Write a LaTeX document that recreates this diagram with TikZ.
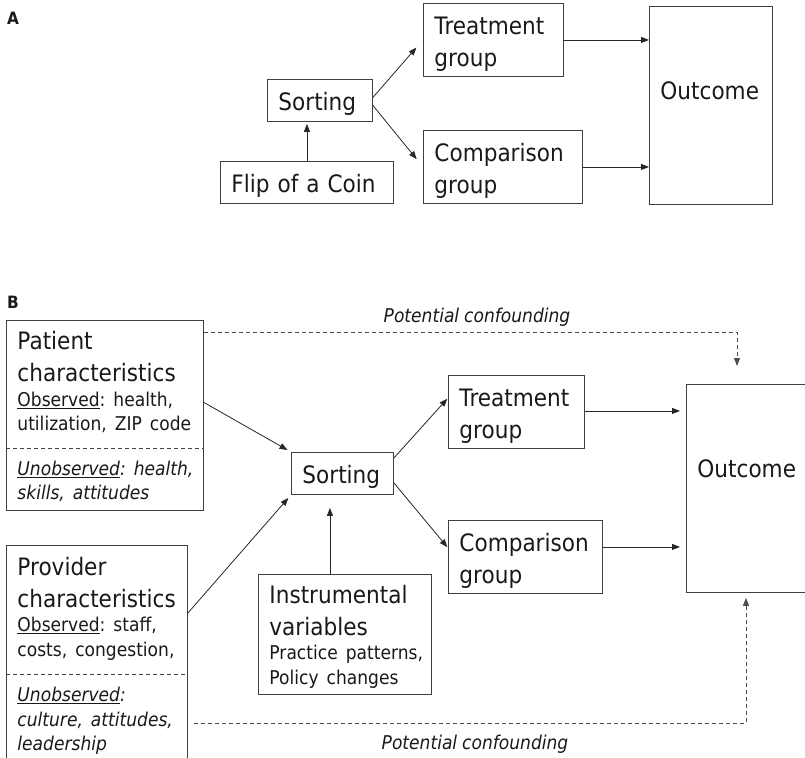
\documentclass[tikz,border=0pt]{standalone}
\usepackage{fontspec}
\setmainfont[FakeStretch=0.9, WordSpace=0.9]{DejaVu Sans}
\usepackage{xcolor}
\usetikzlibrary{arrows.meta, positioning, calc}
\setlength{\parindent}{0pt}
\AtBeginDocument{\frenchspacing}
\newcommand{\bigtxt}{\fontsize{24}{32}\selectfont}
\newcommand{\smtxt}{\fontsize{19}{24.5}\selectfont}
\tikzset{
  %% Box, text set from its top-left corner
  tbox/.style 2 args={
    rectangle, draw=black!75, line width=0.9pt,
    anchor=north west, align=left,
    inner xsep=11pt, inner ysep=0pt,
    text width=#1pt-22pt, text height=31pt, text depth=#2pt-31pt,
    font=\bigtxt, text=black!90
  },
  %% Arrow
  arr/.style={-{Triangle[length=8pt,width=6pt]},
              draw=black!85, line width=0.8pt},
  %% Dashed arrow
  darr/.style={-{Triangle[length=8pt,width=6pt]},
               draw=black!70, line width=0.8pt,
               dash pattern=on 4pt off 3pt},
  %% Divider inside a box
  divl/.style={draw=black!75, line width=0.8pt,
               dash pattern=on 4pt off 3pt},
  %% Panel letter
  panel/.style={anchor=base west, inner sep=0pt,
                font=\fontsize{17}{19}\selectfont\bfseries, text=black!90},
  %% Italic label
  conf/.style={anchor=base, inner sep=0pt,
               font=\smtxt\itshape, text=black!90},
}

\begin{document}
\begin{tikzpicture}[x=1pt, y=-1pt]
  \useasboundingbox (0,0) rectangle (805,757);

  %% ---- Panel A ----
  \node[panel] (labA) at (7,25) {A};
  \node[tbox={140}{73}] (treatA) at (423,3) {Treatment\par group};
  \node[tbox={105}{42}] (sortA) at (267,79) {Sorting};
  \node[tbox={173}{42}] (coinA) at (220,161) {Flip of a Coin};
  \node[tbox={159}{73}] (compA) at (423,130) {Comparison\par group};
  \node[tbox={123}{198}, text height=93pt, text depth=105pt] (outA)
       at (649,6) {Outcome};

  \draw[arr, shorten >=2pt] (coinA) -- (coinA |- sortA.south);
  \draw[arr, shorten >=10pt] ([yshift=3pt]sortA.east) -- (treatA.west);
  \draw[arr, shorten >=10pt] ([yshift=-5pt]sortA.east) -- (compA.west);
  \draw[arr] (treatA.east) -- (treatA.east -| outA.west);
  \draw[arr] (compA.east) -- (compA.east -| outA.west);

  %% ---- Panel B ----
  \node[panel] (labB) at (7,308) {B};
  \node[tbox={197}{190}, text height=29.5pt, text depth=160.5pt] (patient)
       at (6,320)
       {Patient\par characteristics\par
        {\smtxt\underline{Observed}: health,\par
         \mbox{utilization, ZIP code}\par}
        \vspace{20pt}
        {\smtxt\itshape\mbox{\underline{Unobserved}: health,}\par
         skills, attitudes\par}};
  \node[tbox={181}{225}, text height=30pt, text depth=195pt] (provider)
       at (6,545)
       {Provider\par characteristics\par
        {\smtxt\underline{Observed}: staff,\par
         \mbox{costs, congestion,}\par}
        \vspace{21pt}
        {\smtxt\itshape\underline{Unobserved}:\par
         \mbox{culture, attitudes,}\par leadership\par}};
  \node[tbox={102}{42}] (sortB) at (291,452) {Sorting};
  \node[tbox={136}{73}] (treatB) at (448,375) {Treatment\par group};
  \node[tbox={154}{73}] (compB) at (448,520) {Comparison\par group};
  \node[tbox={123}{208}, text height=93pt, text depth=115pt] (outB)
       at (686,384) {Outcome};
  \node[tbox={173}{120}, text height=29pt, text depth=91pt] (instr)
       at (258,574)
       {Instrumental\par variables\par
        {\smtxt\mbox{Practice patterns,}\par Policy changes\par}};

  %% dividers
  \draw[divl] ([yshift=-128pt]patient.north west)
           -- ([yshift=-128pt]patient.north east);
  \draw[divl] ([yshift=-129pt]provider.north west)
           -- ([yshift=-129pt]provider.north east);

  \draw[arr, shorten >=4pt] ([yshift=13pt]patient.east) -- (sortB.north west);
  \draw[arr, shorten >=4pt] ([yshift=-68pt]provider.north east)
       -- (sortB.south west);
  \coordinate (ivtop) at ([xshift=-15pt]instr.north);
  \draw[arr, shorten >=13pt] (ivtop) -- (ivtop |- sortB.south);
  \draw[arr, shorten >=1pt] ([yshift=-6pt]sortB.north east)
       -- ([yshift=14pt]treatB.west);
  \draw[arr, shorten >=1pt] ([yshift=12pt]sortB.south east)
       -- ([yshift=9pt]compB.west);
  \draw[arr, shorten >=6pt] ([yshift=1pt]treatB.east)
       -- ([yshift=1pt]treatB.east -| outB.west);
  \draw[arr, shorten >=6pt] ([yshift=10pt]compB.east)
       -- ([yshift=10pt]compB.east -| outB.west);

  %% confounding paths
  \draw[darr, shorten >=18pt] ([yshift=-12pt]patient.north east)
       -| ([xshift=51pt]outB.north west);
  \draw[darr, shorten >=5pt] ([xshift=6pt,yshift=-178pt]provider.north east)
       -| ([xshift=60pt]outB.south west);
  \node[conf] (confTop) at (477,322) {Potential confounding};
  \node[conf] (confBot) at (475,749) {Potential confounding};

\end{tikzpicture}
\end{document}
